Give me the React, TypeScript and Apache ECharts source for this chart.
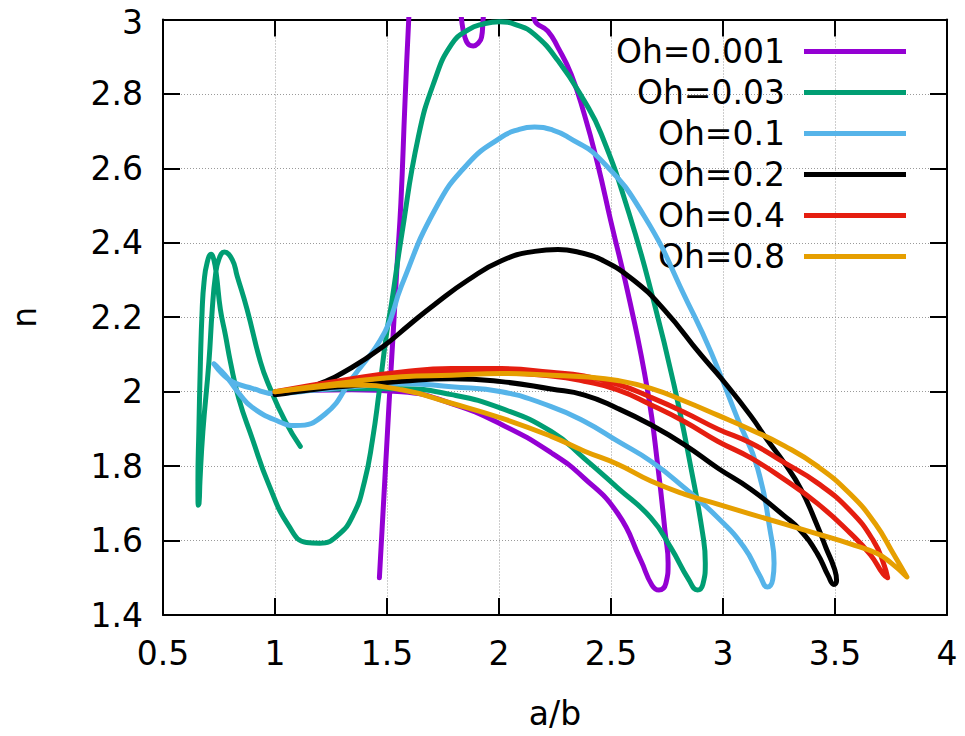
import React, { useEffect, useRef } from "react";
import * as echarts from "echarts";

const seriesNames = ["Oh=0.001", "Oh=0.03", "Oh=0.1", "Oh=0.2", "Oh=0.4", "Oh=0.8"];
const seriesColors = ["#9400d3", "#009e73", "#56b4e9", "#000000", "#e51e10", "#e69f00"];

const xTicks = [0.5, 1, 1.5, 2, 2.5, 3, 3.5, 4];
const yTicks = [1.4, 1.6, 1.8, 2, 2.2, 2.4, 2.6, 2.8, 3];

const oh0001: number[][] = [
  [1.466, 1.5], [1.478, 1.63], [1.49, 1.76], [1.502, 1.89], [1.515, 2.03], [1.528, 2.16],
  [1.545, 2.34], [1.562, 2.507], [1.58, 2.773], [1.597, 3.0], [1.62, 3.25], [1.79, 3.25],
  [1.833, 3.0], [1.848, 2.952], [1.868, 2.931], [1.885, 2.929], [1.905, 2.935], [1.922, 2.952],
  [1.929, 3.0], [1.96, 3.2], [2.1, 3.2], [2.158, 3.0], [2.218, 2.969], [2.263, 2.925],
  [2.322, 2.853], [2.38, 2.747], [2.44, 2.613], [2.5, 2.456], [2.585, 2.24], [2.664, 2.0],
  [2.71, 1.795], [2.742, 1.62], [2.755, 1.54], [2.745, 1.485], [2.714, 1.467], [2.683, 1.48],
  [2.633, 1.547], [2.531, 1.672], [2.38, 1.768], [2.233, 1.836], [2.011, 1.912], [1.788, 1.968],
  [1.565, 2.0], [1.343, 2.005], [1.15, 2.004], [1.0, 2.0],
];

const oh003: number[][] = [
  [1.0, 2.0], [1.2, 2.006], [1.343, 2.008], [1.565, 2.008], [1.788, 1.992], [2.011, 1.955],
  [2.233, 1.893], [2.38, 1.821], [2.531, 1.741], [2.678, 1.661], [2.767, 1.581], [2.847, 1.495],
  [2.886, 1.467], [2.91, 1.482], [2.921, 1.54], [2.909, 1.619], [2.857, 1.795], [2.781, 2.019],
  [2.692, 2.24], [2.58, 2.48], [2.456, 2.693], [2.38, 2.782], [2.264, 2.889], [2.158, 2.96],
  [2.08, 2.985], [2.002, 2.994], [1.93, 2.988], [1.864, 2.973], [1.788, 2.933], [1.712, 2.835],
  [1.64, 2.685], [1.565, 2.419], [1.521, 2.24], [1.499, 2.16], [1.465, 2.0], [1.435, 1.87],
  [1.4, 1.76], [1.35, 1.67], [1.28, 1.614], [1.2, 1.593], [1.14, 1.595], [1.061, 1.64],
  [0.972, 1.751], [0.898, 1.875], [0.838, 1.982], [0.801, 2.08], [0.779, 2.151], [0.756, 2.222],
  [0.739, 2.311], [0.727, 2.355], [0.715, 2.369], [0.697, 2.347], [0.683, 2.293], [0.675, 2.222],
  [0.667, 2.08], [0.66, 1.893], [0.656, 1.76], [0.657, 1.695], [0.661, 1.7], [0.665, 1.76],
  [0.678, 1.893], [0.705, 2.08], [0.72, 2.222], [0.734, 2.311], [0.749, 2.355], [0.774, 2.375],
  [0.809, 2.355], [0.831, 2.311], [0.875, 2.222], [0.935, 2.08], [0.972, 2.018], [1.046, 1.92],
  [1.113, 1.853],
];

const oh01: number[][] = [
  [0.727, 2.075], [0.765, 2.048], [0.81, 2.027], [0.898, 2.009], [1.0, 1.995], [1.194, 2.005],
  [1.343, 2.013], [1.566, 2.022], [1.788, 2.013], [2.011, 2.0], [2.233, 1.96], [2.382, 1.92],
  [2.53, 1.867], [2.678, 1.813], [2.827, 1.742], [2.976, 1.662], [3.094, 1.582], [3.165, 1.505],
  [3.198, 1.475], [3.222, 1.495], [3.228, 1.54], [3.213, 1.618], [3.154, 1.795], [3.064, 1.929],
  [2.946, 2.107], [2.842, 2.24], [2.65, 2.47], [2.456, 2.622], [2.308, 2.684], [2.24, 2.703],
  [2.159, 2.711], [2.08, 2.703], [2.011, 2.684], [1.862, 2.613], [1.714, 2.489], [1.565, 2.285],
  [1.49, 2.16], [1.343, 2.035], [1.224, 1.94], [1.09, 1.909], [1.016, 1.92], [0.898, 1.958],
  [0.84, 1.995], [0.79, 2.035], [0.75, 2.062], [0.727, 2.075],
];

const oh02: number[][] = [
  [1.0, 1.992], [1.2, 2.008], [1.343, 2.016], [1.566, 2.028], [1.788, 2.035], [2.011, 2.027],
  [2.233, 2.007], [2.382, 1.991], [2.53, 1.955], [2.678, 1.911], [2.827, 1.858], [2.976, 1.795],
  [3.124, 1.738], [3.272, 1.667], [3.346, 1.627], [3.421, 1.565], [3.47, 1.505], [3.495, 1.482],
  [3.507, 1.492], [3.497, 1.525], [3.46, 1.58], [3.421, 1.64], [3.346, 1.74], [3.272, 1.81],
  [3.198, 1.87], [3.124, 1.935], [3.0, 2.03], [2.9, 2.1], [2.738, 2.22], [2.6, 2.3],
  [2.456, 2.355], [2.36, 2.374], [2.263, 2.382], [2.159, 2.377], [2.011, 2.352], [1.862, 2.3],
  [1.714, 2.235], [1.6, 2.18], [1.49, 2.125], [1.343, 2.065], [1.194, 2.02], [1.09, 2.0],
  [1.0, 1.992],
];

const oh04: number[][] = [
  [1.0, 2.0], [1.343, 2.035], [1.566, 2.053], [1.788, 2.062], [2.011, 2.062], [2.233, 2.052],
  [2.38, 2.042], [2.53, 2.02], [2.678, 1.985], [2.827, 1.945], [2.976, 1.9], [3.124, 1.862],
  [3.272, 1.81], [3.421, 1.755], [3.568, 1.68], [3.673, 1.598], [3.717, 1.538], [3.735, 1.5],
  [3.715, 1.51], [3.658, 1.562], [3.568, 1.62], [3.421, 1.7], [3.272, 1.765], [3.124, 1.822],
  [2.976, 1.867], [2.827, 1.92], [2.678, 1.965], [2.53, 2.005], [2.38, 2.028], [2.233, 2.042],
  [2.011, 2.05], [1.788, 2.05], [1.566, 2.043], [1.343, 2.028], [1.0, 2.0],
];

const oh08: number[][] = [
  [1.0, 2.0], [1.343, 2.027], [1.566, 2.04], [1.788, 2.044], [2.011, 2.049], [2.233, 2.044],
  [2.38, 2.04], [2.53, 2.03], [2.678, 2.009], [2.827, 1.975], [2.976, 1.937], [3.124, 1.898],
  [3.272, 1.855], [3.421, 1.8], [3.568, 1.725], [3.68, 1.645], [3.76, 1.565], [3.821, 1.502],
  [3.75, 1.54], [3.688, 1.565], [3.568, 1.591], [3.421, 1.618], [3.272, 1.645], [3.124, 1.671],
  [2.976, 1.698], [2.827, 1.725], [2.678, 1.76], [2.53, 1.805], [2.382, 1.84], [2.233, 1.88],
  [2.011, 1.929], [1.788, 1.969], [1.566, 2.005], [1.343, 2.018], [1.15, 2.01], [1.0, 2.0],
];

const seriesData = [oh0001, oh003, oh01, oh02, oh04, oh08];

const FONT = "DejaVu Sans";

export default function App() {
  const ref = useRef<HTMLDivElement>(null);
  useEffect(() => {
    const chart = echarts.init(ref.current!, null, { renderer: "svg" });
    const axisLine = { show: true, onZero: false, lineStyle: { color: "#000", width: 2 } };
    const axisTick = { show: true, inside: true, length: 17, lineStyle: { color: "#000", width: 2 } };
    const gridLine = { show: true, lineStyle: { color: "#9a9a9a", type: [1, 2], width: 1 } };
    const labelStyle = { fontSize: 33, fontFamily: FONT, color: "#000" };
    const yMax = yTicks[yTicks.length - 1];
    chart.setOption({
      animation: false,
      backgroundColor: "#fff",
      grid: { left: 161, top: 15, right: 18, bottom: 121, containLabel: false },
      legend: {
        data: seriesNames,
        orient: "vertical",
        align: "right",
        right: 59,
        top: 35,
        padding: 0,
        itemWidth: 102,
        itemHeight: 5,
        itemGap: 8,
        icon: "rect",
        selectedMode: false,
        textStyle: { ...labelStyle, lineHeight: 32, padding: [0, 14, 0, 0] },
      },
      xAxis: [
        {
          type: "value", min: xTicks[0], max: xTicks[xTicks.length - 1], interval: 0.5,
          position: "bottom", axisLine, axisTick,
          axisLabel: { ...labelStyle, margin: 22 },
          splitLine: gridLine,
          name: "a/b", nameLocation: "middle", nameGap: 82,
          nameTextStyle: labelStyle,
        },
        {
          type: "value", min: xTicks[0], max: xTicks[xTicks.length - 1], interval: 0.5,
          position: "top", axisLine, axisTick,
          axisLabel: { show: false }, splitLine: { show: false },
        },
      ],
      yAxis: [
        {
          type: "value", min: yTicks[0], max: yMax, interval: 0.2,
          position: "left", axisLine, axisTick,
          axisLabel: {
            ...labelStyle, margin: 20, lineHeight: 24,
            formatter: (v: number) => (Math.abs(v - yMax) < 1e-9 ? "{t|" + v + "}" : String(v)),
            rich: { t: { ...labelStyle, lineHeight: 24, padding: [6, 0, 0, 0] } },
          },
          splitLine: gridLine,
          name: "n", nameLocation: "middle", nameGap: 122, nameRotate: 90,
          nameTextStyle: labelStyle,
        },
        {
          type: "value", min: yTicks[0], max: yMax, interval: 0.2,
          position: "right", axisLine, axisTick,
          axisLabel: { show: false }, splitLine: { show: false },
        },
      ],
      series: seriesData.map((d, i) => ({
        name: seriesNames[i],
        type: "line",
        data: d,
        xAxisIndex: 0,
        yAxisIndex: 0,
        symbol: "none",
        showSymbol: false,
        smooth: 0.5,
        clip: true,
        itemStyle: { color: seriesColors[i] },
        lineStyle: { color: seriesColors[i], width: 5, cap: "round", join: "round" },
        z: 2 + i,
      })),
    });
    return () => chart.dispose();
  }, []);
  return (
    <div
      ref={ref}
      style={{ position: "absolute", left: 0, top: 0, width: 965, height: 736 }}
    />
  );
}
